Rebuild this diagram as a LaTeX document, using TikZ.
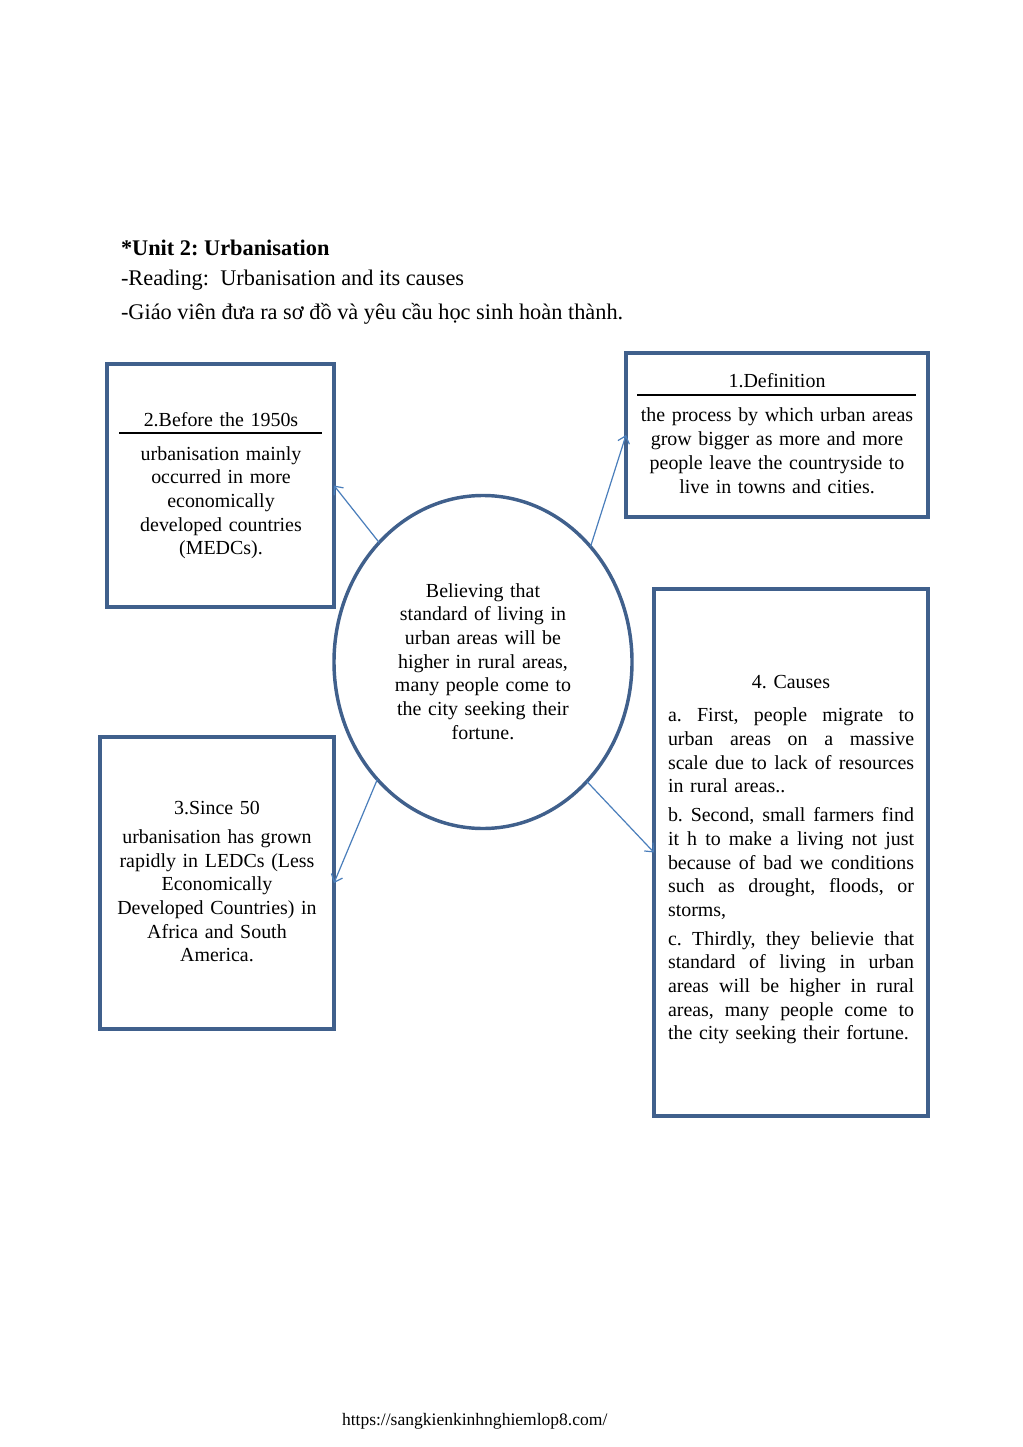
\documentclass[tikz,border=0pt]{standalone}
\usepackage{fontspec}
\setmainfont{Liberation Serif}
\usetikzlibrary{shapes.geometric,arrows.meta}
\definecolor{boxblue}{RGB}{64,96,140}
\definecolor{arrowblue}{RGB}{74,126,187}
\newcommand\jline[1]{\leavevmode\hbox to 143.2pt{\spaceskip=0.25em plus 1fil\relax #1}\\}
\frenchspacing
\begin{document}
\begin{tikzpicture}[x=0.5819pt,y=-0.5819pt,
  box/.style={draw=boxblue,line width=2pt,rectangle,inner sep=0pt,outer sep=0pt},
  ell/.style={draw=boxblue,line width=2pt,ellipse,inner sep=0pt,outer sep=0pt},
  txt/.style={inner sep=0pt,outer sep=0pt,font=\fontsize{11.6}{13.8}\selectfont,align=center},
  jtxt/.style={inner sep=0pt,outer sep=0pt,font=\fontsize{11.6}{13.8}\selectfont,align=left,text width=143.2pt,anchor=base west},
  head/.style={inner sep=0pt,outer sep=0pt,font=\fontsize{13}{15}\selectfont,anchor=base west},
  conn/.style={draw=arrowblue,line width=0.7pt,-{Straight Barb[length=4pt,width=7pt]}},
  rulestyle/.style={draw=black,line width=1.2pt}]
\useasboundingbox (0,0) rectangle (1023,1447);
\fill[white] (0,0) rectangle (1023,1447);

% header
\node[head,font=\fontsize{13}{15}\selectfont\bfseries] (h1) at (121,256) {*Unit 2: Urbanisation};
\node[head] (h2) at (121,286) {-Reading:~ Urbanisation and its causes};
\node[head] (h3) at (121,320) {-Giáo viên đưa ra sơ đồ và yêu cầu học sinh hoàn thành.};

% boxes
\node[box,minimum width=132.09pt,minimum height=141.40pt] (b2) at (220.5,485.5) {};
\node[box,minimum width=175.73pt,minimum height=95.43pt] (b1) at (777,435) {};
\node[box,minimum width=136.16pt,minimum height=169.91pt] (b3) at (217,883) {};
\node[box,minimum width=159.44pt,minimum height=306.66pt] (b4) at (791,852.5) {};
\node[ell,minimum width=173.41pt,minimum height=193.77pt] (c) at (483,662) {};

% box 2
\node[txt,anchor=base,text width=125pt] (t2) at (221,427) {2.Before the 1950s};
\draw[rulestyle] (119,433) -- (322,433);
\node[txt,anchor=base,text width=125pt] (d2) at (221,460) {urbanisation mainly\\ occurred in more\\ economically\\ developed countries\\ (MEDCs).};

% box 1
\node[txt,anchor=base,text width=170pt] (t1) at (777,388) {1.Definition};
\draw[rulestyle] (637,395) -- (916,395);
\node[txt,anchor=base,text width=170pt] (d1) at (777,422) {the process by which urban areas\\ grow bigger as more and more\\ people leave the countryside to\\ live in towns and cities.};

% centre
\node[txt,anchor=base,text width=120pt] (ct) at (483,597) {Believing that\\ standard of living in\\ urban areas will be\\ higher in rural areas,\\ many people come to\\ the city seeking their\\ fortune.};

% box 3
\node[txt,anchor=base,text width=132pt] (t3) at (217,814) {3.Since 50};
\node[txt,anchor=base,text width=132pt] (d3) at (217,843.3) {urbanisation has grown\\ rapidly in LEDCs (Less\\ Economically\\ Developed Countries) in\\ Africa and South\\ America.};

% box 4
\node[txt,anchor=base,text width=150pt] (t4) at (791,688.3) {4. Causes};
\node[jtxt] (pa) at (668,721.7) {\jline{a. First, people migrate to}\jline{urban areas on a massive}\jline{scale due to lack of resources}in rural areas..};
\node[jtxt] (pb) at (668,821.7) {\jline{b. Second, small farmers find}\jline{it h to make a living not just}\jline{because of bad we conditions}\jline{such as drought, floods, or}storms,};
\node[jtxt] (pc) at (668,945) {\jline{c. Thirdly, they believie that}\jline{standard of living in urban}\jline{areas will be higher in rural}\jline{areas, many people come to}the city seeking their fortune.};

% connectors
\draw[conn] (c.131.7) -- (b2.east);
\draw[conn] (c.47.8) -- (b1.west);
\draw[conn] (c.228.6) -- (b3.east);
\draw[conn] (c.311.9) -- (b4.west);

% footer
\node[inner sep=0pt,font=\fontsize{10.2}{12}\selectfont,anchor=base] (ft) at (474.7,1425) {https://sangkienkinhnghiemlop8.com/};
\end{tikzpicture}
\end{document}
